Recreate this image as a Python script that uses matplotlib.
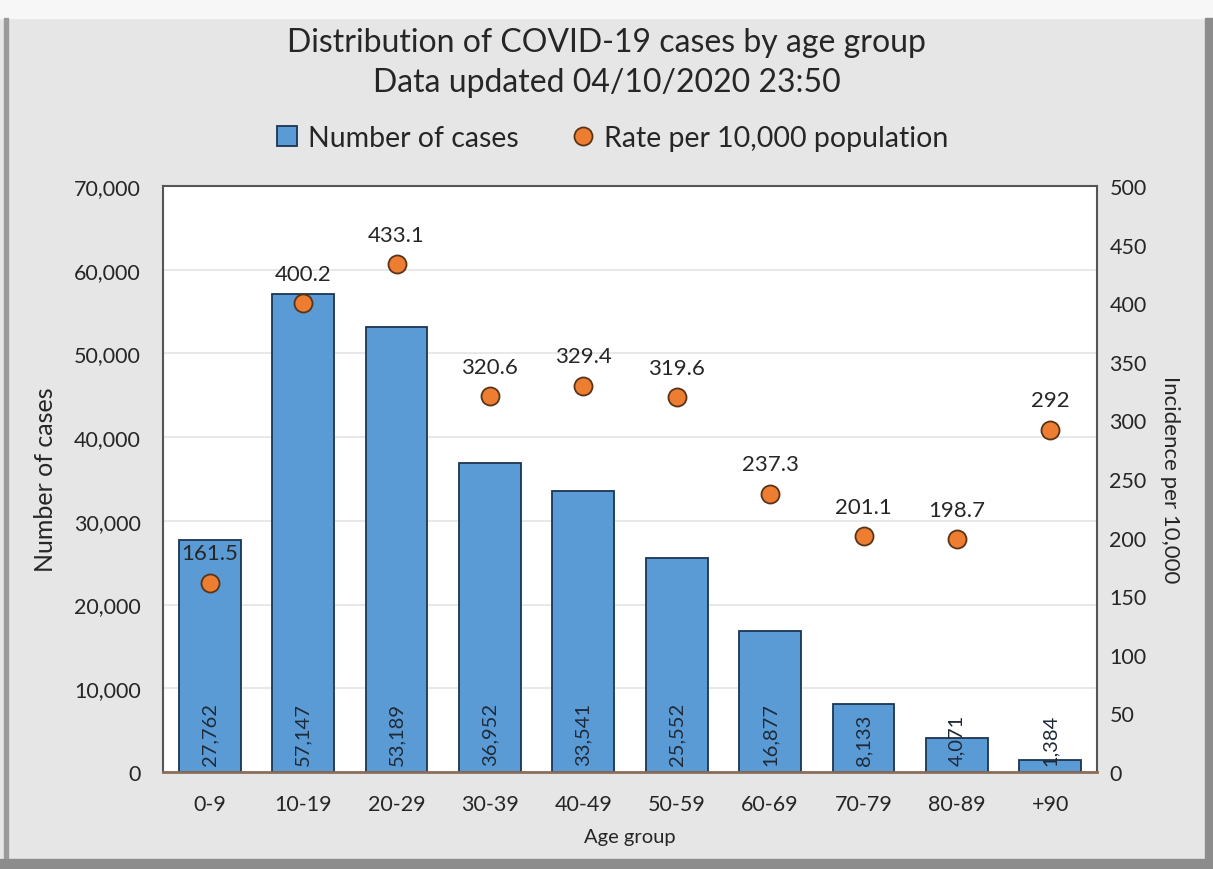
import matplotlib.pyplot as plt
from matplotlib.patches import Rectangle
from matplotlib.ticker import FuncFormatter

age_groups = ['0-9', '10-19', '20-29', '30-39', '40-49', '50-59', '60-69', '70-79', '80-89', '+90']
cases = [27762, 57147, 53189, 36952, 33541, 25552, 16877, 8133, 4071, 1384]
rates = [161.5, 400.2, 433.1, 320.6, 329.4, 319.6, 237.3, 201.1, 198.7, 292]
rate_labels = ['161.5', '400.2', '433.1', '320.6', '329.4', '319.6', '237.3', '201.1', '198.7', '292']

plt.rcParams['font.family'] = ['Lato', 'DejaVu Sans']

BG = '#e6e6e6'
BLUE = '#5b9bd5'
NAVY = '#1c3553'
ORANGE = '#ed7d31'
TEXT = '#262626'

fig = plt.figure(figsize=(12.13, 8.70), dpi=100)
fig.patch.set_facecolor(BG)

# frame around the chart: light top strip, shaded left/right/bottom edges
fig.add_artist(Rectangle((0, 0.978), 1, 0.022, transform=fig.transFigure, color='#f7f7f7', zorder=0))
fig.add_artist(Rectangle((0.003, 0.0), 0.004, 0.978, transform=fig.transFigure, color='#9a9a9a', zorder=0))
fig.add_artist(Rectangle((0.993, 0.0), 0.007, 0.978, transform=fig.transFigure, color='#8c8c8c', zorder=0))
fig.add_artist(Rectangle((0.0, 0.0), 1, 0.012, transform=fig.transFigure, color='#8c8c8c', zorder=0))

ax = fig.add_axes([163 / 1213, 1 - 773 / 870, (1097 - 163) / 1213, (773 - 187) / 870])
ax.set_facecolor('white')
x = list(range(len(age_groups)))

bars = ax.bar(x, cases, width=0.66, color=BLUE, edgecolor=NAVY, linewidth=1.3, zorder=2,
              label='Number of cases')
ax.set_ylim(0, 70000)
ax.set_xlim(-0.5, len(age_groups) - 0.5)
ax.set_yticks(range(0, 70001, 10000))
ax.yaxis.set_major_formatter(FuncFormatter(lambda v, p: f'{int(v):,}'))
ax.grid(axis='y', color='#e4e4e4', linewidth=1.2, zorder=0)
ax.set_axisbelow(True)
ax.set_xticks(x)
ax.set_xticklabels(age_groups)
ax.tick_params(length=0, labelsize=15.5, colors=TEXT)
ax.tick_params(axis='x', pad=16)
ax.tick_params(axis='y', pad=16)

for side in ['left', 'top', 'right']:
    ax.spines[side].set_color('#555555')
    ax.spines[side].set_linewidth(1.5)
ax.spines['bottom'].set_color('#8a6d5a')
ax.spines['bottom'].set_linewidth(2)

# case counts written upward from the base of each bar
for xi, c in zip(x, cases):
    ax.text(xi, 800, f'{c:,}', rotation=90, ha='center', va='bottom', fontsize=14.5,
            color='#1e2a38', zorder=4)

ax.set_ylabel('Number of cases', fontsize=18, color=TEXT, labelpad=12)
ax.set_xlabel('Age group', fontsize=14.5, color=TEXT, labelpad=10)

ax2 = ax.twinx()
ax2.set_ylim(0, 500)
ax2.set_yticks(range(0, 501, 50))
ax2.tick_params(length=0, labelsize=15.5, colors=TEXT, pad=9)
for side in ax2.spines:
    ax2.spines[side].set_visible(False)
ax2.plot(x, rates, linestyle='none', marker='o', markersize=13, markerfacecolor=ORANGE,
         markeredgecolor='#5a3418', markeredgewidth=1.3, zorder=5, label='Rate per 10,000 population')
for xi, r, lbl in zip(x, rates, rate_labels):
    ax2.annotate(lbl, (xi, r), xytext=(0, 14), textcoords='offset points', ha='center',
                 va='bottom', fontsize=16, color=TEXT)
ax2.set_ylabel('Incidence per 10,000', fontsize=16, color=TEXT, rotation=-90, labelpad=24)

fig.text(0.5, 1 - 43 / 870, 'Distribution of COVID-19 cases by age group', ha='center', va='center',
         fontsize=23, color=TEXT)
fig.text(0.5, 1 - 83 / 870, 'Data updated 04/10/2020 23:50', ha='center', va='center',
         fontsize=23, color=TEXT)

handles = [bars, ax2.lines[0]]
fig.legend(handles, [h.get_label() for h in handles], loc='center', bbox_to_anchor=(0.505, 1 - 139 / 870),
           ncol=2, frameon=False, fontsize=20.5, handlelength=0.7, handletextpad=0.4, columnspacing=1.9,
           labelcolor=TEXT)

fig.savefig('out.png', dpi=100, facecolor=BG)
